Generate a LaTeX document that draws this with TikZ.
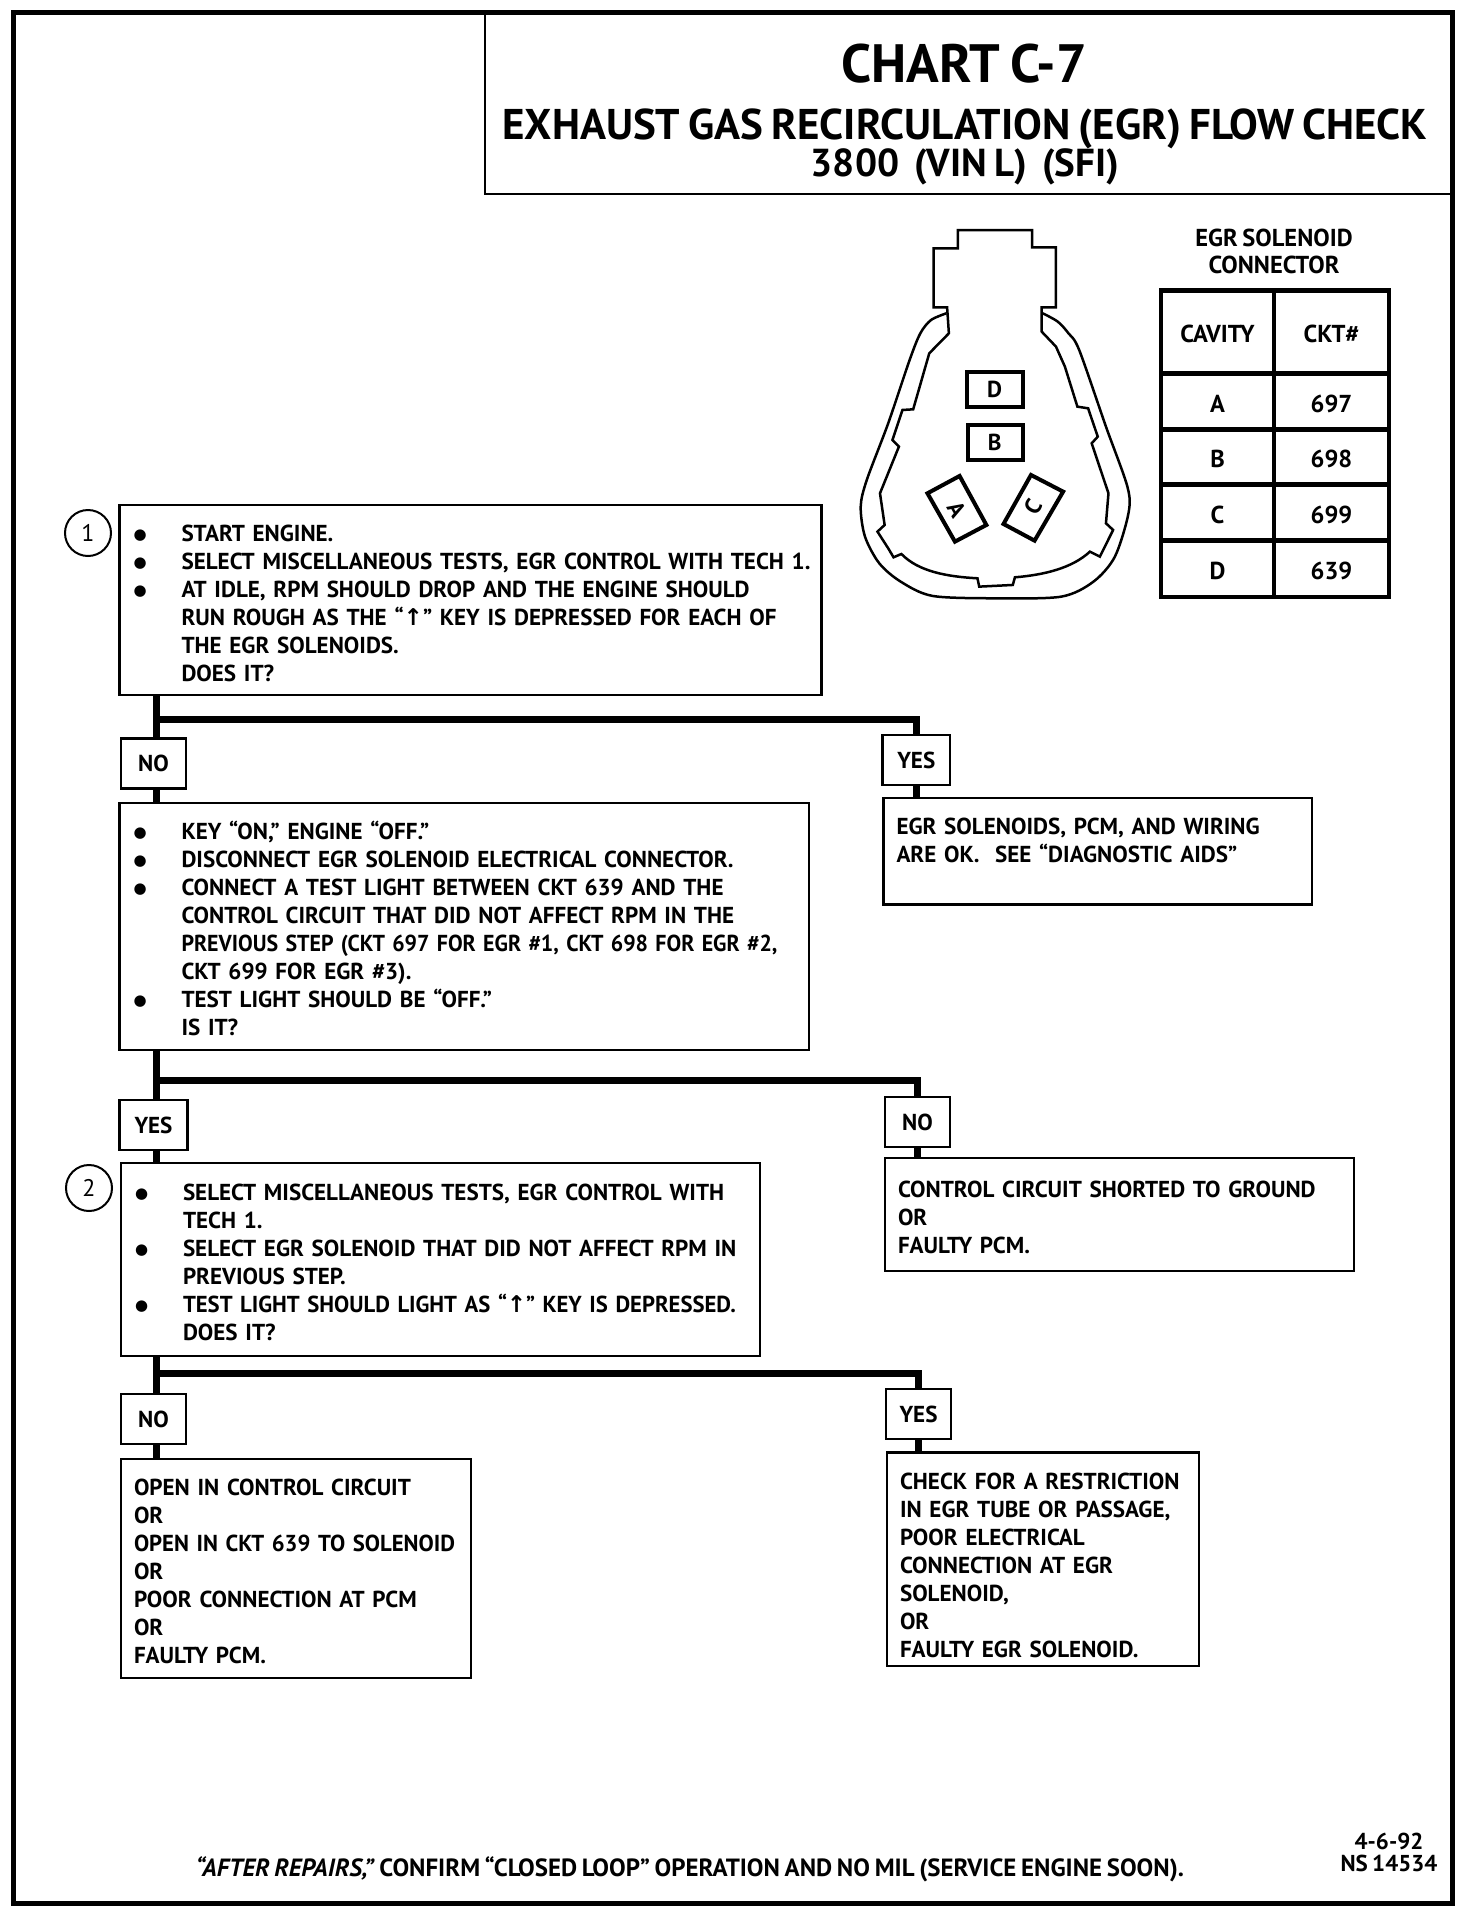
\documentclass[tikz,border=0pt]{standalone}
\usepackage{fontspec}
\setmainfont[WordSpace=0.75]{PT Sans}
\newfontfamily\symfont{DejaVu Sans}
\usepackage{tikz}
\usetikzlibrary{positioning, calc}
\newcommand{\bul}{\makebox[49pt][l]{\raisebox{2pt}{\hspace{1pt}\fontsize{15}{28}\symfont\char"25CF}}}
\newcommand{\ind}{\hspace*{49pt}}
\newcommand{\upkey}{{\symfont\char"2191}}
\newcommand{\fitline}[2]{\resizebox{#1pt}{\height}{#2}}
\newcommand{\bodyfont}{\fontsize{23.1}{28}\selectfont\bfseries}
\tikzset{
    stepbox/.style 2 args={rectangle, draw, line width=2.5pt, anchor=north west, outer sep=0pt,
        inner xsep=13pt, inner ysep=0pt, text width=#1pt, minimum height=#2pt,
        align=left, font=\bodyfont, execute at begin node={\rule{0pt}{23pt}}},
    tagbox/.style={rectangle, draw, line width=2.5pt, anchor=north west, outer sep=0pt,
        inner sep=0pt, minimum width=65pt, minimum height=50pt, font=\bodyfont},
    stepnum/.style={circle, draw, line width=2pt, minimum size=46pt, inner sep=0pt,
        font=\fontsize{24}{28}\selectfont},
    tablecell/.style={rectangle, draw, line width=4.5pt, anchor=north west, outer sep=0pt,
        inner sep=0pt, text height=23pt, text depth=2pt, font=\fontsize{24.5}{28}\selectfont\bfseries},
    pin/.style={draw, line width=4pt},
    trunk/.style={line width=7pt},
    plaintext/.style={inner sep=0pt, align=center},
}
\begin{document}
\begin{tikzpicture}[x=1pt,y=-1pt]
    \useasboundingbox (0,0) rectangle (1472,1914);
    % page frame and title
    \draw[line width=5pt] (13.5,12) rectangle (1452,1903);
    \draw[line width=2.5pt] (485,12) |- (1452,194);
    \node[plaintext, font=\fontsize{54}{54}\selectfont\bfseries] (title) at (964,64) {CHART C-7};
    \node[plaintext, font=\fontsize{43}{43}\selectfont\bfseries] (subtitle) at (965,129) {EXHAUST GAS RECIRCULATION (EGR) FLOW CHECK};
    \node[plaintext, font=\fontsize{39}{39}\selectfont\bfseries] (engine) at (965,167) {3800\ \ (VIN L)\ \ (SFI)};
    % connector
    \begin{scope}[shift={(840,210)}, x=0.357pt, y=-0.3333pt]
        \draw[line width=2.5pt] (300,292) -- (262,292) -- (262,115) -- (330,115) -- (330,60) -- (538,60)
            -- (538,112) -- (605,112) -- (605,292) -- (565,292) -- (565,365) -- (605,410) -- (630,470)
            -- (665,590) -- (695,595) -- (722,680) -- (705,700) -- (752,850) -- (745,940) -- (765,960)
            -- (728,1040) -- (700,1025) .. controls (650,1075) and (570,1095) .. (490,1102) -- (484,1125) -- (390,1130)
            -- (385,1105) .. controls (300,1100) and (220,1085) .. (172,1032) -- (150,1042) -- (135,1015) -- (105,965)
            -- (125,945) -- (112,850) -- (165,710) -- (147,690) -- (175,600) -- (205,598) -- (250,430)
            -- (305,370) -- cycle;
        \draw[line width=2.5pt] plot[smooth] coordinates {(298,310) (255,330) (225,370) (195,450) (135,640)
            (75,810) (58,890) (70,980) (110,1060) (170,1115) (260,1158) (440,1165) (620,1160) (710,1115)
            (770,1040) (808,910) (805,830) (745,650) (670,420) (640,370) (610,335) (568,310)};
        \draw[pin] (355,485) rectangle (512,590);
        \draw[pin] (358,645) rectangle (512,750);
        \draw[pin] (245,850) -- (335,798) -- (410,945) -- (322,995) -- cycle;
        \draw[pin] (535,795) -- (625,845) -- (545,992) -- (458,942) -- cycle;
        \node[plaintext, font=\bodyfont] (pind) at (433,538) {D};
        \node[plaintext, font=\bodyfont] (pinb) at (433,698) {B};
        \node[plaintext, font=\bodyfont, rotate=-60] (pina) at (327,898) {A};
        \node[plaintext, font=\bodyfont, rotate=60] (pinc) at (540,892) {C};
    \end{scope}
    % cavity table
    \node[plaintext, font=\fontsize{24.5}{27}\selectfont\bfseries, align=center] (tablehead) at (1274,251) {EGR SOLENOID\\CONNECTOR};
    \foreach \cav/\ckt/\ytop/\high in {CAVITY/CKT\#/290.5/83, A/697/373.5/56, B/698/429.5/55, C/699/484.5/56, D/639/540.5/56.5}{
        \node[tablecell, minimum width=113pt, minimum height=\high pt] (cav\ytop) at (1161,\ytop) {\cav};
        \node[tablecell, minimum width=115pt, minimum height=\high pt] (ckt\ytop) at (1274,\ytop) {\ckt};
    }
    % steps
    \node[stepnum] (numa) at (88,533) {1};
    \node[stepbox={676}{190}] (stepa) at (119.5,505) {\bul START ENGINE.\\
        \bul \fitline{629}{SELECT MISCELLANEOUS TESTS, EGR CONTROL WITH TECH 1.}\\
        \bul AT IDLE, RPM SHOULD DROP AND THE ENGINE SHOULD\\
        \ind RUN ROUGH AS THE ``\upkey'' KEY IS DEPRESSED FOR EACH OF\\
        \ind THE EGR SOLENOIDS.\\
        \ind DOES IT?};
    \node[tagbox] (noa) at (121,738.5) {NO};
    \node[tagbox, minimum width=67.5pt] (yesa) at (882.5,735) {YES};
    \node[stepbox={663.5}{247}] (stepb) at (119.5,803) {\bul KEY ``ON,'' ENGINE ``OFF.''\\
        \bul DISCONNECT EGR SOLENOID ELECTRICAL CONNECTOR.\\
        \bul CONNECT A TEST LIGHT BETWEEN CKT 639 AND THE\\
        \ind CONTROL CIRCUIT THAT DID NOT AFFECT RPM IN THE\\
        \ind \fitline{596}{PREVIOUS STEP (CKT 697 FOR EGR \#1, CKT 698 FOR EGR \#2,}\\
        \ind CKT 699 FOR EGR \#3).\\
        \bul TEST LIGHT SHOULD BE ``OFF.''\\
        \ind IS IT?};
    \node[stepbox={402.5}{106.5}] (resa) at (883.5,798) {EGR SOLENOIDS, PCM, AND WIRING\\
        ARE OK.\ \ SEE ``DIAGNOSTIC AIDS''\\ ~};
    \node[tagbox, minimum width=68pt] (yesb) at (119.5,1100) {YES};
    \node[tagbox] (nob) at (885,1097) {NO};
    \node[stepnum] (numb) at (89,1188) {2};
    \node[stepbox={613}{193}] (stepc) at (121,1163) {\bul SELECT MISCELLANEOUS TESTS, EGR CONTROL WITH\\
        \ind TECH 1.\\
        \bul SELECT EGR SOLENOID THAT DID NOT AFFECT RPM IN\\
        \ind PREVIOUS STEP.\\
        \bul \fitline{553}{TEST LIGHT SHOULD LIGHT AS ``\upkey'' KEY IS DEPRESSED.}\\
        \ind DOES IT?};
    \node[stepbox={443}{113}] (resb) at (885,1158) {CONTROL CIRCUIT SHORTED TO GROUND\\
        OR\\
        FAULTY PCM.};
    \node[tagbox] (noc) at (121,1394) {NO};
    \node[tagbox] (yesc) at (886,1389) {YES};
    \node[stepbox={324}{219}] (resc) at (121,1459) {OPEN IN CONTROL CIRCUIT\\
        OR\\
        \fitline{321}{OPEN IN CKT 639 TO SOLENOID}\\
        OR\\
        POOR CONNECTION AT PCM\\
        OR\\
        FAULTY PCM.};
    \node[stepbox={286}{213.5}] (resd) at (887,1452.5) {\rule{0pt}{28pt}CHECK FOR A RESTRICTION\\
        IN EGR TUBE OR PASSAGE,\\
        POOR ELECTRICAL\\
        CONNECTION AT EGR\\
        SOLENOID,\\
        OR\\
        FAULTY EGR SOLENOID.};
    % branches
    \coordinate (forka) at (156,719);
    \coordinate (forkb) at (156,1080);
    \coordinate (forkc) at (156,1373);
    \draw[trunk] (stepa.south -| forka) -- (noa.north -| forka);
    \draw[trunk] (noa.south -| forka) -- (stepb.north -| forka);
    \draw[trunk] (forka) -| (yesa.north);
    \draw[trunk] (yesa.south) -- (resa.north -| yesa.south);
    \draw[trunk] (stepb.south -| forkb) -- (yesb.north -| forkb);
    \draw[trunk] (yesb.south -| forkb) -- (stepc.north -| forkb);
    \draw[trunk] (forkb) -| (nob.north);
    \draw[trunk] (nob.south) -- (resb.north -| nob.south);
    \draw[trunk] (stepc.south -| forkc) -- (noc.north -| forkc);
    \draw[trunk] (noc.south -| forkc) -- (resc.north -| forkc);
    \draw[trunk] (forkc) -| (yesc.north);
    \draw[trunk] (yesc.south) -- (resd.north -| yesc.south);
    % footer
    \node[plaintext, font=\fontsize{24.9}{28}\selectfont\bfseries] (footer) at (690,1869) {\textit{``AFTER REPAIRS,''} CONFIRM ``CLOSED LOOP'' OPERATION AND NO MIL (SERVICE ENGINE SOON).};
    \node[plaintext, font=\fontsize{23}{22}\selectfont\bfseries] (docnum) at (1389,1852) {4-6-92\\NS 14534};
\end{tikzpicture}
\end{document}
